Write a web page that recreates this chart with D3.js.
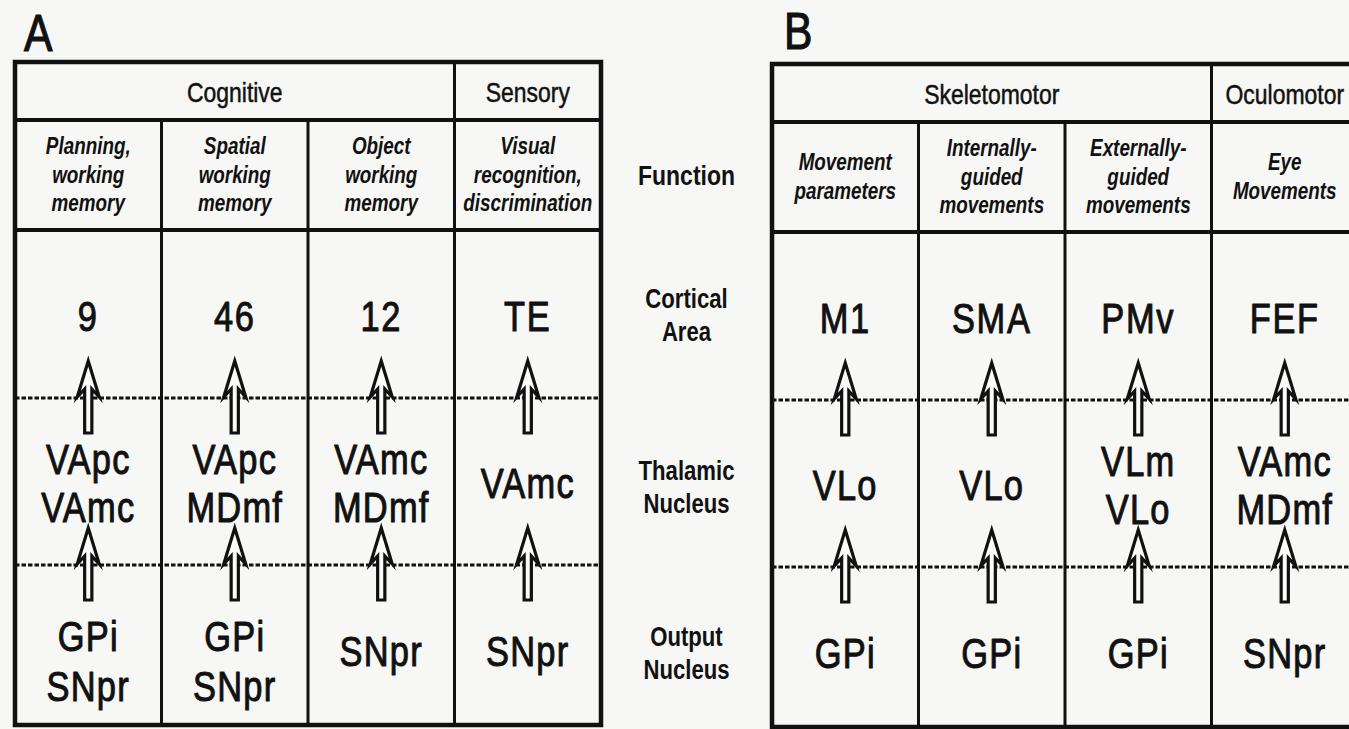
<!DOCTYPE html>
<html>
<head>
<meta charset="utf-8">
<script src="https://cdn.jsdelivr.net/npm/d3@7"></script>
<style>
  html, body { margin: 0; padding: 0; background: #f7f7f5; }
  svg { display: block; }
</style>
</head>
<body>
<svg id="chart" width="1349" height="729"></svg>
<script>
// ---------------- data ----------------
const panelLetters = ["A", "B"];
const groupNamesA = ["Cognitive", "Sensory"];
const groupSpansA = [3, 1];
const groupNamesB = ["Skeletomotor", "Oculomotor"];
const groupSpansB = [3, 1];
const functionsA = [["Planning,", "working", "memory"], ["Spatial", "working", "memory"], ["Object", "working", "memory"], ["Visual", "recognition,", "discrimination"]];
const functionsB = [["Movement", "parameters"], ["Internally-", "guided", "movements"], ["Externally-", "guided", "movements"], ["Eye", "Movements"]];
const corticalA = ["9", "46", "12", "TE"];
const corticalB = ["M1", "SMA", "PMv", "FEF"];
const thalamicA = [["VApc", "VAmc"], ["VApc", "MDmf"], ["VAmc", "MDmf"], ["VAmc"]];
const thalamicB = [["VLo"], ["VLo"], ["VLm", "VLo"], ["VAmc", "MDmf"]];
const outputA = [["GPi", "SNpr"], ["GPi", "SNpr"], ["SNpr"], ["SNpr"]];
const outputB = [["GPi"], ["GPi"], ["GPi"], ["SNpr"]];
const rowLabels = [["Function"], ["Cortical", "Area"], ["Thalamic", "Nucleus"], ["Output", "Nucleus"]];

// ---------------- layout ----------------
const FONT = "'Liberation Sans', Arial, Helvetica, sans-serif";
const SX = 0.82;          // horizontal squeeze of the original lettering
const INK = "#111";
const svg = d3.select("#chart");

const panels = [
  { letter: panelLetters[0], groups: groupNamesA, spans: groupSpansA, fn: functionsA, cort: corticalA, thal: thalamicA, out: outputA,
    left: 15, right: 601, top: 62, letterX: 24, letterY: 51, dy: 0 },
  { letter: panelLetters[1], groups: groupNamesB, spans: groupSpansB, fn: functionsB, cort: corticalB, thal: thalamicB, out: outputB,
    left: 772, right: 1358, top: 64, letterX: 784, letterY: 49, dy: 2 }
];

// vertical positions (panel A reference, panel B shifted by dy)
const yEdges = { hdr: 120, fn: 230, dot1: 398, dot2: 565, bottom: 725 };
const rowCenter = {
  header: () => 92,
  function: () => 175,
  cortical: () => 316,
  thalamic: () => 483,
  output: n => (n > 1 ? 661 : 651)
};
const lineGap = { function: 28.5, thalamic: 48, output: 50 };

function textBlock(g, lines, x, cy, opt) {
  const fs = opt.size, gap = opt.gap || fs * 1.2;
  const off = opt.off != null ? opt.off : 0.358;
  lines.forEach((s, i) => {
    const y = cy + (i - (lines.length - 1) / 2) * gap + off * fs;
    const t = g.append("text")
      .attr("transform", `translate(${x},${y}) scale(${SX},1)`)
      .attr("text-anchor", "middle")
      .attr("font-family", FONT)
      .attr("font-size", fs)
      .attr("font-weight", opt.weight || "normal")
      .attr("font-style", opt.italic ? "italic" : "normal")
      .attr("letter-spacing", opt.ls || 0)
      .attr("fill", INK)
      .text(s);
    if (opt.stroke) t.attr("stroke", INK).attr("stroke-width", opt.stroke).attr("stroke-linejoin", "round");
  });
}

function arrow(g, cx, tip, base, bottom) {
  const hw = 11, sw = 3.6;
  const p = d3.path();
  p.moveTo(cx, tip);
  p.lineTo(cx + hw, base);
  p.lineTo(cx + sw, base - 8);
  p.lineTo(cx + sw, bottom);
  p.lineTo(cx - sw, bottom);
  p.lineTo(cx - sw, base - 8);
  p.lineTo(cx - hw, base);
  p.closePath();
  g.append("path").attr("d", p.toString())
    .attr("fill", "#fbfbfa").attr("stroke", INK)
    .attr("stroke-width", 3.2).attr("stroke-linejoin", "miter").attr("stroke-miterlimit", 6);
}

panels.forEach(P => {
  const g = svg.append("g").attr("transform", `translate(0,${P.dy})`);
  const cols = d3.range(4);
  const x = d3.scaleBand().domain(cols).range([P.left, P.right]).paddingInner(0).paddingOuter(0);

  // panel letter
  svg.append("text")
    .attr("transform", `translate(${P.letterX},${P.letterY}) scale(${SX},1)`)
    .attr("font-family", FONT).attr("font-size", 52).attr("fill", INK)
    .attr("stroke", INK).attr("stroke-width", 1.2)
    .text(P.letter);

  // dotted separators
  [yEdges.dot1, yEdges.dot2].forEach(yy => {
    g.append("line").attr("x1", P.left).attr("x2", P.right).attr("y1", yy).attr("y2", yy)
      .attr("stroke", INK).attr("stroke-width", 2.8).attr("stroke-dasharray", "4.5,2");
  });

  // vertical column lines
  cols.slice(1).forEach(c => {
    const xx = x(c);
    let cum = 0, isGroupEdge = false;
    P.spans.forEach(s => { cum += s; if (cum === c) isGroupEdge = true; });
    g.append("line").attr("x1", xx).attr("x2", xx)
      .attr("y1", isGroupEdge ? P.top - P.dy : yEdges.hdr).attr("y2", yEdges.bottom)
      .attr("stroke", INK).attr("stroke-width", 3);
  });

  // horizontal solid lines
  [yEdges.hdr, yEdges.fn].forEach(yy => {
    g.append("line").attr("x1", P.left).attr("x2", P.right).attr("y1", yy).attr("y2", yy)
      .attr("stroke", INK).attr("stroke-width", 4);
  });

  // outer frame
  g.append("rect").attr("x", P.left).attr("y", P.top - P.dy)
    .attr("width", P.right - P.left).attr("height", yEdges.bottom - (P.top - P.dy))
    .attr("fill", "none").attr("stroke", INK).attr("stroke-width", 4.5);

  // group headers
  let start = 0;
  P.groups.forEach((name, i) => {
    const span = P.spans[i];
    const x0 = x(start), x1 = x(start + span - 1) + x.bandwidth();
    textBlock(g, [name], (x0 + x1) / 2, rowCenter.header(), { size: 28, stroke: 0.5 });
    start += span;
  });

  cols.forEach(c => {
    const cx = x(c) + x.bandwidth() / 2;
    textBlock(g, P.fn[c], cx, rowCenter.function(), { size: 23, weight: "bold", italic: true, gap: lineGap.function, off: 0.33 });
    textBlock(g, [P.cort[c]], cx, rowCenter.cortical(), { size: 42, ls: 2, stroke: 1 });
    textBlock(g, P.thal[c], cx, rowCenter.thalamic(), { size: 42, gap: lineGap.thalamic, ls: 1.5, stroke: 1 });
    textBlock(g, P.out[c], cx, rowCenter.output(P.out[c].length), { size: 42, gap: lineGap.output, ls: 1.5, stroke: 1 });
    arrow(g, cx, 361, 397, 433);
    arrow(g, cx, 528, 564, 600);
  });
});

// central row labels
const mid = (panels[0].right + panels[1].left) / 2;
const labelCenters = [175, 315, 487, 653];
const labelSizes = [28, 27, 27, 27];
const lg = svg.append("g");
rowLabels.forEach((lines, i) => {
  textBlock(lg, lines, mid, labelCenters[i], { size: labelSizes[i], weight: "bold", gap: 33 });
});
</script>
</body>
</html>
